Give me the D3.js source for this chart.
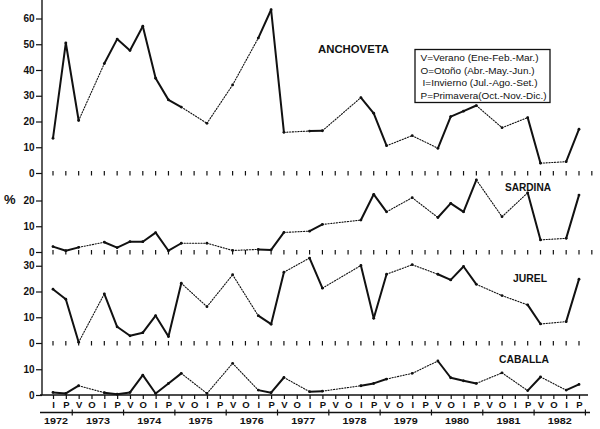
<!DOCTYPE html>
<html><head><meta charset="utf-8">
<script src="https://cdn.jsdelivr.net/npm/d3@7"></script>
<style>body{margin:0;background:#fff}svg{display:block}</style>
</head><body><svg id="c" width="600" height="429"></svg>
<script>
// ---- data ----
const quarterLabels = ["I","P",
  "V","O","I","P", "V","O","I","P", "V","O","I","P", "V","O","I","P", "V","O","I","P",
  "V","O","I","P", "V","O","I","P", "V","O","I","P", "V","O","I","P", "V","O","I","P"];
const yearLabels = ["1972","1973","1974","1975","1976","1977","1978","1979","1980","1981","1982"];
const legendLines = ["V=Verano (Ene-Feb.-Mar.)","O=Otoño (Abr.-May.-Jun.)","I=Invierno (Jul.-Ago.-Set.)","P=Primavera(Oct.-Nov.-Dic.)"];
const seriesNames = ["ANCHOVETA","SARDINA","JUREL","CABALLA"];
const N = null;
const anchoveta = [13.5,50.5,20.4,N,42.5,52,47.6,57,36.8,28.4,25.6,N,19.3,N,34.2,N,52.4,63.4,15.8,N,16.3,16.4,N,N,29.3,23.2,10.6,N,14.5,N,9.6,21.9,24.0,26.2,N,17.6,N,21.5,3.8,N,4.4,17.0];
const sardina   = [2.1,0.5,1.8,N,3.8,1.7,4.0,4.0,7.5,0.5,3.4,N,3.4,N,0.6,N,1.0,0.8,7.6,N,8.1,10.7,N,N,12.4,22.4,15.6,N,21.1,N,13.4,18.9,15.6,28.0,N,13.7,N,23.0,4.7,N,5.3,22.1];
const jurel     = [20.9,17.0,0.3,N,19.1,6.3,2.8,4.0,10.6,2.5,23.2,N,14.1,N,26.5,N,10.6,7.3,27.5,N,33.0,21.3,N,N,30.1,9.6,26.7,N,30.4,N,26.7,24.5,29.7,22.8,N,18.4,N,14.8,7.4,N,8.3,24.8];
const caballa   = [1.0,0.6,3.6,N,0.9,0.3,1.0,7.7,0.6,4.5,8.4,N,0.6,N,12.3,N,1.9,0.9,6.8,N,1.3,1.5,N,N,3.6,4.5,6.2,N,8.4,N,13.2,6.7,5.5,4.5,N,8.6,N,1.7,7.0,N,1.9,4.1];
const anchovetaTicks = [0,10,20,30,40,50,60];
const sardinaTicks = [0,10,20];
const jurelTicks = [0,10,20,30];
const caballaTicks = [0,10];

// ---- layout ----
const svg = d3.select("#c");
const FONT = "'Liberation Sans', Arial, sans-serif";
const ink = "#111";
const axisX = 42;
const x = d3.scaleLinear().domain([0, 41]).range([53, 579]);
const PX = 2.575;
const panels = [
  {name: seriesNames[0], values: anchoveta, ticks: anchovetaTicks, zero: 173, max: 64, tickRow: 43, label: [318, 53, 71]},
  {name: seriesNames[1], values: sardina, ticks: sardinaTicks, zero: 252, max: 30, tickRow: 43, label: [505, 190.5, 46]},
  {name: seriesNames[2], values: jurel, ticks: jurelTicks, zero: 343, max: 34, tickRow: 42, label: [513, 281.5, 34]},
  {name: seriesNames[3], values: caballa, ticks: caballaTicks, zero: 395, max: 14, tickRow: 0, label: [499, 362.5, 50]}
];

// y axis line
svg.append("line").attr("x1", axisX).attr("x2", axisX).attr("y1", 0).attr("y2", 395)
  .attr("stroke", "#333").attr("stroke-width", 1.6);

panels.forEach(p => {
  const y = d3.scaleLinear().domain([0, p.max]).range([p.zero, p.zero - p.max * PX]);
  const ax = d3.axisLeft(y).tickValues(p.ticks).tickSize(6).tickPadding(1.5).tickFormat(d3.format("d"));
  const g = svg.append("g").attr("transform", `translate(${axisX},0)`).call(ax);
  g.select(".domain").remove();
  g.selectAll("line").attr("stroke", ink).attr("stroke-width", 1.2);
  g.selectAll("text").attr("font-family", FONT).attr("font-size", 10).attr("font-weight", "bold").attr("fill", ink);
  if (p.tickRow > 0) {
    svg.append("g").selectAll("line").data(d3.range(p.tickRow)).join("line")
      .attr("x1", d => x(d)).attr("x2", d => x(d))
      .attr("y1", p.zero - 2).attr("y2", p.zero + 2.5)
      .attr("stroke", ink).attr("stroke-width", 1.2);
  }
  const pts = p.values.map((v, i) => ({i, v})).filter(d => d.v !== null);
  const segs = [];
  for (let k = 0; k < pts.length - 1; k++) segs.push([pts[k], pts[k + 1]]);
  svg.append("g").selectAll("line").data(segs).join("line")
    .attr("x1", d => x(d[0].i)).attr("y1", d => y(d[0].v))
    .attr("x2", d => x(d[1].i)).attr("y2", d => y(d[1].v))
    .attr("stroke", ink)
    .attr("stroke-linecap", "round")
    .attr("stroke-width", d => d[1].i - d[0].i === 1 ? 2 : 1.1)
    .attr("stroke-dasharray", d => d[1].i - d[0].i === 1 ? null : "1.2,1.6");
  svg.append("g").selectAll("circle").data(pts).join("circle")
    .attr("cx", d => x(d.i)).attr("cy", d => y(d.v)).attr("r", 1.4).attr("fill", ink);
  svg.append("text").attr("x", p.label[0]).attr("y", p.label[1]).text(p.name)
    .attr("font-family", FONT).attr("font-size", 11.5).attr("font-weight", "bold").attr("fill", ink)
    .attr("textLength", p.label[2]).attr("lengthAdjust", "spacingAndGlyphs");
});

svg.append("text").attr("x", 4).attr("y", 204).text("%")
  .attr("font-family", FONT).attr("font-size", 13).attr("font-weight", "bold").attr("fill", ink);

// bottom quarter axis
svg.append("line").attr("x1", 40).attr("x2", 588).attr("y1", 395).attr("y2", 395).attr("stroke", ink).attr("stroke-width", 1.6);
const qa = d3.axisBottom(x).tickValues(d3.range(42)).tickSize(4).tickPadding(2).tickFormat(i => quarterLabels[i]);
const qg = svg.append("g").attr("transform", "translate(0,395)").call(qa);
qg.select(".domain").remove();
qg.selectAll("line").attr("stroke", ink).attr("stroke-width", 1.2);
qg.selectAll("text").attr("font-family", FONT).attr("font-size", 9.5).attr("font-weight", "bold").attr("fill", ink);

// year axis
svg.append("line").attr("x1", 40).attr("x2", 590).attr("y1", 412.5).attr("y2", 412.5).attr("stroke", ink).attr("stroke-width", 1.4);
const yearBounds = d3.range(11).map(k => 1.5 + 4 * k);
svg.append("g").selectAll("line").data(yearBounds).join("line")
  .attr("x1", d => x(d)).attr("x2", d => x(d)).attr("y1", 409.5).attr("y2", 415.5)
  .attr("stroke", ink).attr("stroke-width", 1.2);
svg.append("g").selectAll("text").data(yearLabels).join("text")
  .attr("x", (d, k) => k === 0 ? (axisX + x(1.5)) / 2 - 1 : x(4 * k - 0.5))
  .attr("y", 423.5).attr("text-anchor", "middle").text(d => d)
  .attr("font-family", FONT).attr("font-size", 9).attr("font-weight", "bold").attr("fill", ink)
  .attr("textLength", 24).attr("lengthAdjust", "spacingAndGlyphs");

// legend box
svg.append("rect").attr("x", 415).attr("y", 49.5).attr("width", 135).attr("height", 53)
  .attr("fill", "#fff").attr("stroke", ink).attr("stroke-width", 1.3);
const legW = [118, 114, 117, 126];
const legY = [60.5, 73.5, 86, 99];
svg.append("g").selectAll("text").data(legendLines).join("text")
  .attr("x", (d, k) => k === 2 ? 422.5 : 420.5).attr("y", (d, k) => legY[k]).text(d => d)
  .attr("font-family", FONT).attr("font-size", 9.5).attr("fill", ink)
  .attr("textLength", (d, k) => legW[k] - (k === 2 ? 2 : 0)).attr("lengthAdjust", "spacingAndGlyphs");
</script></body></html>
